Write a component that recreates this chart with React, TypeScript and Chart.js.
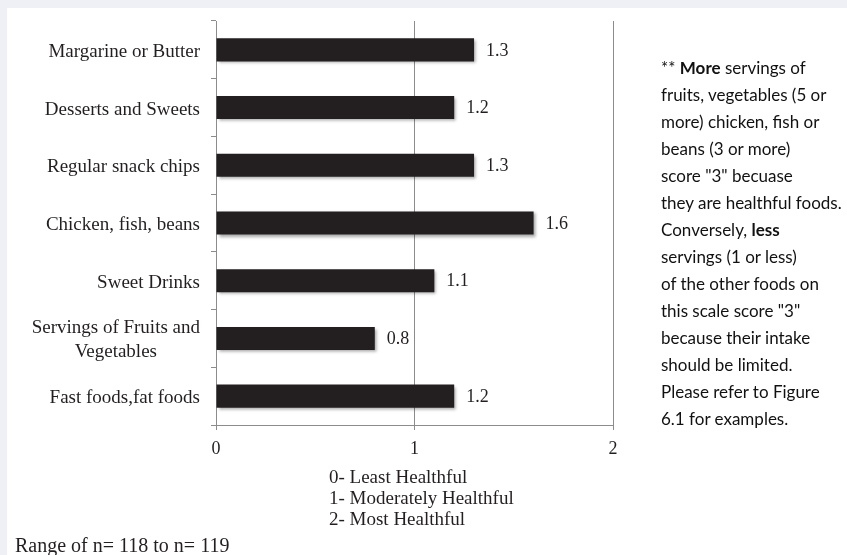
import React, { useEffect, useRef } from "react";
import { Chart, registerables } from "chart.js";

Chart.register(...registerables);

// Food-group scores (0 = least healthful, 2 = most healthful)
const categories: (string | string[])[] = [
  "Margarine or Butter",
  "Desserts and Sweets",
  "Regular snack chips",
  "Chicken, fish, beans",
  "Sweet Drinks",
  ["Servings of Fruits and", "Vegetables"],
  "Fast foods,fat foods",
];
const scores: number[] = [1.3, 1.2, 1.3, 1.6, 1.1, 0.8, 1.2];
const xTicks: number[] = [0, 1, 2];

const scaleKey: string[] = [
  "0- Least Healthful",
  "1- Moderately Healthful",
  "2- Most Healthful",
];
const sampleNote = "Range of n= 118 to n= 119";

const W = 847;
const H = 555;
const SERIF = "'Liberation Serif', 'Times New Roman', serif";
const SANS = "Lato, 'Open Sans', sans-serif";
const INK = "#231f20";
const RULE = "#8c8c8c";
const LABEL_SIZE = 19;
const LABEL_LINE = 24;
const LABEL_GAP = 16; // tick mark + padding between label block and axis

const barShadow = {
  id: "barShadow",
  beforeDatasetDraw(chart: any) {
    const ctx = chart.ctx;
    ctx.save();
    ctx.shadowColor = "rgba(0,0,0,0.35)";
    ctx.shadowOffsetX = 2;
    ctx.shadowOffsetY = 2;
    ctx.shadowBlur = 3;
  },
  afterDatasetDraw(chart: any) {
    chart.ctx.restore();
  },
};

const valueLabels = {
  id: "valueLabels",
  afterDatasetsDraw(chart: any) {
    const ctx = chart.ctx;
    const meta = chart.getDatasetMeta(0);
    const data = chart.data.datasets[0].data as number[];
    ctx.save();
    ctx.font = `18px ${SERIF}`;
    ctx.fillStyle = INK;
    ctx.textAlign = "left";
    ctx.textBaseline = "middle";
    meta.data.forEach((bar: any, i: number) => {
      ctx.fillText(data[i].toFixed(1), bar.x + 12, bar.y + 1);
    });
    ctx.restore();
  },
};

// Category labels: right-aligned blocks, multi-line blocks centred line by line
const categoryLabels = {
  id: "categoryLabels",
  afterDraw(chart: any) {
    const ctx = chart.ctx;
    const y = chart.scales.y;
    const labels = chart.data.labels as (string | string[])[];
    const right = y.right - LABEL_GAP;
    ctx.save();
    ctx.font = `${LABEL_SIZE}px ${SERIF}`;
    ctx.fillStyle = INK;
    ctx.textAlign = "center";
    ctx.textBaseline = "middle";
    labels.forEach((lab, i) => {
      const lines = Array.isArray(lab) ? lab : [lab];
      const blockW = Math.max(...lines.map((l) => ctx.measureText(l).width));
      const cx = right - blockW / 2;
      const cy = y.getPixelForTick(i) + 2;
      lines.forEach((l, j) => {
        ctx.fillText(l, cx, cy + (j - (lines.length - 1) / 2) * LABEL_LINE);
      });
    });
    ctx.restore();
  },
};

export default function App() {
  const canvasRef = useRef<HTMLCanvasElement | null>(null);

  useEffect(() => {
    const canvas = canvasRef.current;
    if (!canvas) return;
    const chart = new Chart(canvas, {
      type: "bar",
      data: {
        labels: categories as any,
        datasets: [
          {
            data: scores,
            backgroundColor: INK,
            borderWidth: 0,
            barPercentage: 0.4,
            categoryPercentage: 1,
          },
        ],
      },
      options: {
        indexAxis: "y",
        responsive: false,
        animation: false,
        devicePixelRatio: 1,
        layout: { padding: { left: 0, top: 21, right: W - 613, bottom: 100 } },
        plugins: {
          legend: { display: false },
          tooltip: { enabled: false },
        },
        scales: {
          y: {
            type: "category",
            position: "left",
            grid: {
              drawOnChartArea: false,
              drawTicks: true,
              tickLength: 5,
              color: RULE,
              offset: true,
            },
            border: { display: true, color: RULE },
            ticks: { display: false },
            afterFit(scale: any) {
              scale.width = 216;
            },
          },
          x: {
            type: "linear",
            min: xTicks[0],
            max: xTicks[xTicks.length - 1],
            afterBuildTicks(scale: any) {
              scale.ticks = xTicks.map((v) => ({ value: v }));
            },
            grid: {
              color: RULE,
              tickLength: 5,
              drawOnChartArea: true,
            },
            border: { display: true, color: RULE },
            ticks: {
              color: INK,
              padding: 8,
              font: { family: SERIF, size: 18 },
            },
            afterFit(scale: any) {
              scale.height = 30;
            },
          },
        },
      },
      plugins: [barShadow, valueLabels, categoryLabels],
    });
    return () => chart.destroy();
  }, []);

  return (
    <div
      style={{
        position: "fixed",
        left: 0,
        top: 0,
        width: W,
        height: H,
        background: "#eef0f6",
        overflow: "hidden",
      }}
    >
      <div
        style={{
          position: "absolute",
          left: 7,
          top: 8,
          right: 0,
          bottom: 0,
          background: "#ffffff",
        }}
      />
      <canvas
        ref={canvasRef}
        width={W}
        height={H}
        style={{ position: "absolute", left: 0, top: 0, display: "block" }}
      />
      <div
        style={{
          position: "absolute",
          left: 661,
          top: 54,
          fontFamily: SANS,
          fontSize: 17,
          lineHeight: "27px",
          color: "#111",
          whiteSpace: "nowrap",
        }}
      >
        <div>
          ** <b>More</b> servings of
        </div>
        <div>fruits, vegetables (5 or</div>
        <div>more) chicken, fish or</div>
        <div>beans (3 or more)</div>
        <div>score "3" becuase</div>
        <div>they are healthful foods.</div>
        <div>
          Conversely, <b>less</b>
        </div>
        <div>servings (1 or less)</div>
        <div>of the other foods on</div>
        <div>this scale score "3"</div>
        <div>because their intake</div>
        <div>should be limited.</div>
        <div>Please refer to Figure</div>
        <div>6.1 for examples.</div>
      </div>
      <div
        style={{
          position: "absolute",
          left: 329,
          top: 466,
          fontFamily: SERIF,
          fontSize: 19,
          lineHeight: "21px",
          color: INK,
          whiteSpace: "nowrap",
        }}
      >
        {scaleKey.map((t) => (
          <div key={t}>{t}</div>
        ))}
      </div>
      <div
        style={{
          position: "absolute",
          left: 15,
          top: 533,
          fontFamily: SERIF,
          fontSize: 20,
          lineHeight: "24px",
          color: INK,
          whiteSpace: "nowrap",
        }}
      >
        {sampleNote}
      </div>
    </div>
  );
}
